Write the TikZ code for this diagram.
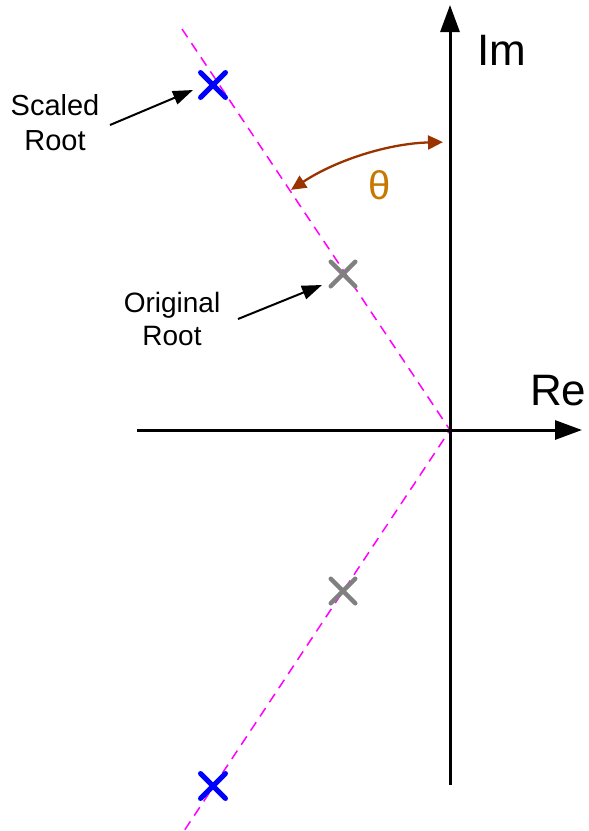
\documentclass[tikz,border=0pt]{standalone}
\usepackage{fontspec}
\setmainfont{Liberation Sans}
\usetikzlibrary{arrows.meta,shapes.misc}
\definecolor{rootblue}{HTML}{0000FF}
\definecolor{rootgray}{HTML}{808080}
\definecolor{dashmag}{HTML}{FF00FF}
\definecolor{arcbrown}{HTML}{993300}
\definecolor{thetacol}{HTML}{C87800}
\begin{document}
\begin{tikzpicture}[x=1pt,y=-1pt,
  axisline/.style={line width=3pt,-{Triangle[length=27pt,width=19pt]}},
  dashline/.style={draw=dashmag,line width=1.5pt,dash pattern=on 10pt off 7pt},
  rootmark/.style={cross out,draw,minimum size=20pt,inner sep=0pt,line width=5pt,line cap=round},
  pointer/.style={line width=2pt,-{Triangle[length=20pt,width=14pt]}},
  anglearc/.style={draw=arcbrown,line width=2.3pt,{Triangle[length=15pt,width=14pt]}-{Triangle[length=15pt,width=14pt]}},
  lbl/.style={inner sep=0pt,align=center,font=\fontsize{29}{35}\selectfont},
  axlbl/.style={inner sep=0pt,anchor=base west,font=\fontsize{44}{52}\selectfont}]
\useasboundingbox (0,0) rectangle (589,831);
\coordinate (O) at (450,430);
\coordinate (dt) at (182,29);
\coordinate (db) at (184,831);
\coordinate (imb) at (450,785);
\coordinate (imt) at (450,5);
\coordinate (rel) at (137,430);
\coordinate (rer) at (582,430);
% dashed root line
\draw[dashline] (dt) -- (O) -- (db);
% axes
\draw[axisline] (imb) -- (imt);
\draw[axisline] (rel) -- (rer);
\node[axlbl] (im) at (477,65) {Im};
\node[axlbl] (re) at (530,405) {Re};
% roots
\node[rootmark,draw=rootblue] (s1) at (213,85) {};
\node[rootmark,draw=rootblue] (s2) at (213,786) {};
\node[rootmark,draw=rootgray,line width=4.5pt] (o1) at (343,274) {};
\node[rootmark,draw=rootgray,line width=4.5pt] (o2) at (343,591) {};
% angle
\draw[anglearc] (O) ++(-91.4:288) arc[start angle=-91.4,end angle=-123.5,radius=288];
\node[inner sep=0pt,anchor=base west,text=thetacol,font=\fontsize{40}{48}\selectfont] (th) at (368,199) {θ};
% labels
\node[lbl,anchor=base] (sl) at (55,150) {Scaled\\Root};
\node[lbl,anchor=base,font=\fontsize{28}{33}\selectfont] (ol) at (172,345) {Original\\Root};
\coordinate (sa) at (110,125);
\coordinate (st) at (193,90);
\coordinate (oa) at (238,319);
\coordinate (ot) at (322,285);
\draw[pointer] (sa) -- (st);
\draw[pointer] (oa) -- (ot);
\end{tikzpicture}
\end{document}
